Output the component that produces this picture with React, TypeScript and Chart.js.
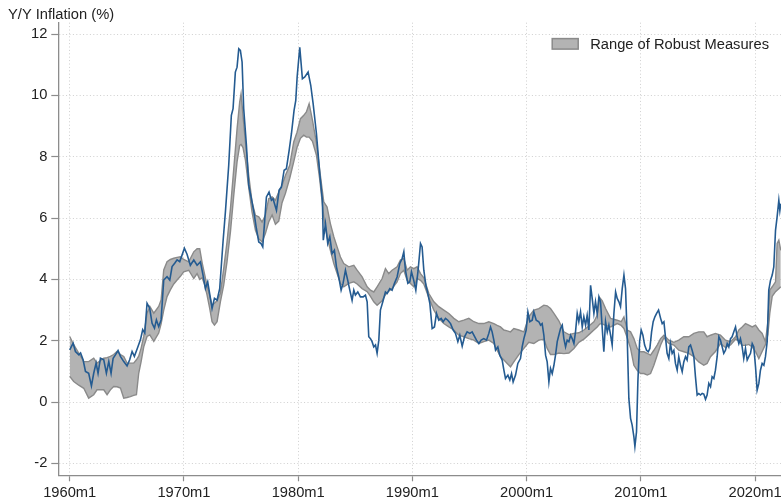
import React, { useEffect, useRef } from 'react';
import { Chart, registerables } from 'chart.js';

Chart.register(...registerables);

// ---------- data ----------
const titleText = 'Y/Y Inflation (%)';
const legendLabel = 'Range of Robust Measures';
const xTickYears = [1960, 1970, 1980, 1990, 2000, 2010, 2020];
const yTickValues = [-2, 0, 2, 4, 6, 8, 10, 12];

const lineYears = [
  1960.00, 1960.30, 1960.50, 1960.80, 1960.95, 1961.17, 1961.38, 1961.66, 1961.90, 1962.10,
  1962.31, 1962.48, 1962.69, 1962.98, 1963.21, 1963.42, 1963.62, 1963.80, 1964.00, 1964.23,
  1964.44, 1964.73, 1965.02, 1965.25, 1965.46, 1965.66, 1965.90, 1966.19, 1966.39, 1966.57,
  1966.77, 1967.00, 1967.21, 1967.42, 1967.59, 1967.79, 1968.00, 1968.23, 1968.52, 1968.76,
  1968.96, 1969.19, 1969.40, 1969.63, 1969.84, 1970.04, 1970.27, 1970.56, 1970.86, 1971.15,
  1971.44, 1971.67, 1971.88, 1972.08, 1972.32, 1972.46, 1972.67, 1972.90, 1973.13, 1973.42,
  1973.63, 1973.92, 1974.15, 1974.30, 1974.50, 1974.65, 1974.80, 1974.94, 1975.09, 1975.23,
  1975.47, 1975.67, 1975.96, 1976.17, 1976.34, 1976.55, 1976.75, 1976.90, 1977.22, 1977.45,
  1977.66, 1977.80, 1978.10, 1978.33, 1978.53, 1978.77, 1978.97, 1979.21, 1979.41, 1979.64,
  1979.79, 1979.91, 1980.14, 1980.37, 1980.58, 1980.87, 1981.10, 1981.31, 1981.60, 1981.89,
  1982.12, 1982.20, 1982.39, 1982.59, 1982.77, 1982.97, 1983.17, 1983.35, 1983.55, 1983.76,
  1983.93, 1984.14, 1984.34, 1984.52, 1984.72, 1984.87, 1985.01, 1985.22, 1985.45, 1985.69,
  1985.89, 1986.04, 1986.18, 1986.33, 1986.47, 1986.62, 1986.77, 1986.91, 1987.06, 1987.20,
  1987.41, 1987.64, 1987.79, 1988.02, 1988.22, 1988.43, 1988.66, 1988.90, 1989.10, 1989.25,
  1989.39, 1989.60, 1989.77, 1989.92, 1990.12, 1990.30, 1990.50, 1990.71, 1990.85, 1991.00,
  1991.20, 1991.29, 1991.53, 1991.73, 1991.93, 1992.11, 1992.31, 1992.52, 1992.69, 1992.90,
  1993.10, 1993.34, 1993.57, 1993.77, 1993.98, 1994.15, 1994.36, 1994.56, 1994.79, 1995.03,
  1995.23, 1995.38, 1995.61, 1995.82, 1996.02, 1996.25, 1996.49, 1996.69, 1996.84, 1996.98,
  1997.13, 1997.28, 1997.48, 1997.65, 1997.86, 1998.01, 1998.15, 1998.36, 1998.53, 1998.68,
  1998.82, 1999.03, 1999.23, 1999.46, 1999.61, 1999.76, 1999.96, 2000.11, 2000.28, 2000.49,
  2000.63, 2000.84, 2001.07, 2001.22, 2001.36, 2001.51, 2001.66, 2001.80, 2001.95, 2002.09,
  2002.24, 2002.39, 2002.53, 2002.68, 2002.82, 2002.97, 2003.12, 2003.26, 2003.41, 2003.55,
  2003.70, 2003.85, 2003.99, 2004.14, 2004.28, 2004.43, 2004.57, 2004.72, 2004.87, 2005.01,
  2005.16, 2005.30, 2005.45, 2005.60, 2005.74, 2005.89, 2006.03, 2006.18, 2006.33, 2006.47,
  2006.62, 2006.76, 2006.91, 2007.06, 2007.20, 2007.35, 2007.49, 2007.64, 2007.79, 2007.93,
  2008.08, 2008.22, 2008.37, 2008.52, 2008.66, 2008.81, 2008.95, 2009.10, 2009.24, 2009.39,
  2009.48, 2009.62, 2009.74, 2009.89, 2010.03, 2010.18, 2010.33, 2010.50, 2010.65, 2010.79,
  2010.94, 2011.08, 2011.23, 2011.38, 2011.55, 2011.73, 2011.87, 2012.02, 2012.16, 2012.30,
  2012.45, 2012.59, 2012.74, 2012.89, 2013.03, 2013.18, 2013.32, 2013.47, 2013.62, 2013.76,
  2013.91, 2014.05, 2014.20, 2014.35, 2014.49, 2014.64, 2014.78, 2014.93, 2015.07, 2015.22,
  2015.37, 2015.51, 2015.66, 2015.80, 2015.95, 2016.10, 2016.24, 2016.39, 2016.53, 2016.68,
  2016.83, 2016.97, 2017.12, 2017.26, 2017.41, 2017.56, 2017.70, 2017.85, 2017.99, 2018.14,
  2018.29, 2018.43, 2018.58, 2018.72, 2018.87, 2019.01, 2019.16, 2019.31, 2019.45, 2019.60,
  2019.75, 2019.89, 2020.04, 2020.18, 2020.33, 2020.47, 2020.62, 2020.77, 2020.91, 2021.06,
  2021.20, 2021.35, 2021.50, 2021.64, 2021.79, 2021.93, 2022.08, 2022.17, 2022.25,
];

const lineValues = [
  1.70, 1.92, 1.65, 1.54, 1.60, 1.38, 1.00, 0.94, 0.53, 0.94,
  1.27, 0.94, 1.43, 1.38, 0.94, 1.32, 0.94, 1.43, 1.54, 1.68,
  1.49, 1.32, 1.18, 1.38, 1.65, 1.49, 1.73, 2.03, 2.36, 2.25,
  3.22, 3.06, 2.57, 2.41, 2.68, 2.46, 2.68, 3.98, 4.09, 3.98,
  4.42, 4.53, 4.64, 4.58, 4.80, 5.02, 4.82, 4.46, 4.63, 4.46,
  4.57, 4.14, 3.70, 3.92, 3.38, 3.05, 3.38, 3.32, 3.70, 5.22,
  6.20, 7.72, 9.35, 9.57, 10.76, 10.92, 11.52, 11.47, 11.09, 9.57,
  8.37, 7.07, 6.53, 6.09, 5.66, 5.22, 5.17, 5.06, 6.69, 6.85,
  6.58, 6.63, 6.25, 6.91, 7.01, 7.56, 7.61, 8.21, 8.75, 9.51,
  9.84, 10.60, 11.57, 10.54, 10.60, 10.76, 10.33, 9.73, 8.75, 7.45,
  6.58, 5.28, 5.82, 5.17, 5.39, 4.84, 4.95, 4.41, 4.08, 3.65,
  3.87, 4.30, 3.97, 3.65, 3.32, 3.65, 3.49, 3.59, 3.43, 3.43,
  3.49, 3.27, 2.13, 2.07, 1.97, 1.80, 1.86, 1.59, 2.02, 3.00,
  3.27, 3.59, 3.54, 3.70, 3.65, 3.87, 4.08, 4.52, 4.68, 4.90,
  4.30, 3.87, 3.92, 4.25, 3.97, 3.65, 4.30, 5.17, 5.06, 4.30,
  3.76, 3.65, 3.21, 2.40, 2.45, 2.89, 2.67, 2.73, 2.62, 2.73,
  2.67, 2.56, 2.35, 2.24, 1.97, 2.18, 1.82, 2.13, 2.29, 2.24,
  2.29, 2.18, 2.02, 1.91, 2.02, 2.07, 2.02, 2.24, 2.45, 2.29,
  2.02, 1.69, 1.80, 1.53, 1.37, 1.04, 0.77, 0.88, 0.72, 0.93,
  0.66, 0.88, 1.26, 1.42, 1.80, 2.07, 2.35, 2.94, 2.62, 2.67,
  2.94, 2.67, 2.62, 2.51, 2.56, 2.18, 1.53, 1.31, 0.66, 1.10,
  0.93, 1.20, 1.53, 1.97, 2.18, 2.40, 2.51, 2.07, 1.80, 2.02,
  1.97, 2.18, 2.07, 1.91, 2.29, 2.89, 2.62, 2.94, 2.45, 2.78,
  2.51, 2.83, 2.35, 3.81, 3.38, 2.89, 3.27, 2.89, 3.43, 3.27,
  2.40, 1.64, 2.62, 2.29, 2.51, 2.18, 1.86, 2.89, 3.59, 3.38,
  3.27, 3.11, 3.70, 4.14, 3.70, 2.07, 0.12, -0.53, -0.75, -1.13,
  -1.45, -0.97, 0.66, 1.97, 2.35, 2.18, 1.86, 1.69, 1.64, 1.75,
  2.29, 2.62, 2.78, 2.89, 3.00, 2.73, 2.56, 2.62, 2.10, 1.59,
  1.42, 1.91, 1.59, 1.69, 1.26, 1.04, 1.48, 1.20, 0.99, 1.31,
  1.48, 1.37, 1.80, 1.86, 1.69, 1.48, 0.83, 0.23, 0.28, 0.23,
  0.28, 0.26, 0.09, 0.23, 0.61, 0.50, 0.83, 0.77, 1.04, 1.48,
  2.13, 2.02, 1.80, 1.59, 1.69, 1.91, 1.80, 2.07, 2.13, 2.29,
  2.45, 2.13, 1.91, 2.07, 1.80, 1.42, 1.75, 1.37, 1.48, 1.59,
  1.91, 1.80, 1.15, 0.39, 0.61, 1.04, 1.26, 1.20, 1.48, 1.97,
  3.65, 3.97, 4.14, 4.41, 5.60, 6.04, 6.58, 6.25, 6.47,
];

const bandYears = [
  1960.00, 1960.35, 1960.79, 1961.23, 1961.66, 1962.10, 1962.39, 1962.98, 1963.27, 1963.56,
  1963.85, 1964.14, 1964.44, 1964.73, 1965.02, 1965.31, 1965.60, 1965.84, 1966.04, 1966.25,
  1966.48, 1966.77, 1967.01, 1967.36, 1967.79, 1968.00, 1968.23, 1968.52, 1968.81, 1969.11,
  1969.40, 1969.69, 1969.98, 1970.42, 1970.86, 1971.15, 1971.38, 1971.59, 1971.79, 1972.02,
  1972.26, 1972.46, 1972.67, 1972.90, 1973.19, 1973.48, 1973.77, 1974.07, 1974.36, 1974.65,
  1974.88, 1975.00, 1975.17, 1975.38, 1975.67, 1975.96, 1976.26, 1976.55, 1976.84, 1977.13,
  1977.42, 1977.72, 1978.01, 1978.30, 1978.59, 1978.88, 1979.26, 1979.61, 1979.90, 1980.20,
  1980.49, 1980.72, 1980.96, 1981.25, 1981.60, 1981.89, 1982.24, 1982.53, 1982.82, 1983.12,
  1983.41, 1983.70, 1983.99, 1984.43, 1984.87, 1985.16, 1985.60, 1986.04, 1986.33, 1986.62,
  1986.91, 1987.35, 1987.64, 1987.93, 1988.22, 1988.66, 1988.95, 1989.25, 1989.54, 1989.83,
  1990.12, 1990.41, 1990.71, 1991.00, 1991.44, 1991.88, 1992.31, 1992.75, 1993.19, 1993.63,
  1994.06, 1994.50, 1994.94, 1995.38, 1995.82, 1996.25, 1996.69, 1997.13, 1997.42, 1997.71,
  1998.01, 1998.30, 1998.59, 1998.88, 1999.32, 1999.76, 2000.19, 2000.63, 2001.07, 2001.51,
  2001.80, 2002.09, 2002.39, 2002.82, 2003.26, 2003.70, 2004.14, 2004.57, 2005.01, 2005.45,
  2005.89, 2006.18, 2006.41, 2006.62, 2006.91, 2007.35, 2007.93, 2008.28, 2008.52, 2008.81,
  2009.10, 2009.39, 2009.68, 2009.97, 2010.27, 2010.56, 2010.85, 2011.14, 2011.43, 2011.73,
  2012.02, 2012.45, 2012.89, 2013.32, 2013.76, 2014.20, 2014.64, 2015.07, 2015.51, 2015.80,
  2016.10, 2016.53, 2016.97, 2017.41, 2017.85, 2018.29, 2018.58, 2018.87, 2019.16, 2019.45,
  2019.75, 2020.04, 2020.33, 2020.62, 2020.91, 2021.12, 2021.29, 2021.50, 2021.79, 2021.93,
  2022.08, 2022.25,
];

const bandHigh = [
  2.14, 1.87, 1.60, 1.32, 1.32, 1.43, 1.27, 1.43, 1.45, 1.49,
  1.55, 1.65, 1.55, 1.49, 1.27, 1.27, 1.27, 1.38, 1.50, 1.76,
  2.14, 2.90, 3.12, 2.90, 3.12, 3.33, 4.31, 4.58, 4.65, 4.69,
  4.72, 4.74, 4.65, 4.57, 4.90, 5.00, 5.00, 4.55, 4.20, 3.80,
  3.45, 3.16, 3.22, 3.30, 3.55, 4.35, 5.22, 6.31, 7.61, 8.91,
  9.78, 10.05, 9.35, 8.48, 7.39, 6.53, 6.09, 6.04, 5.87, 6.09,
  6.63, 6.69, 6.58, 6.85, 7.07, 7.39, 7.72, 8.48, 8.80, 9.24,
  9.35, 9.46, 9.73, 9.19, 8.45, 7.55, 6.53, 6.36, 5.82, 5.39,
  5.06, 4.73, 4.52, 4.41, 4.46, 4.30, 4.08, 3.76, 3.65, 3.59,
  3.76, 4.03, 4.35, 4.19, 4.30, 4.41, 4.63, 4.68, 4.30, 4.41,
  4.35, 4.41, 4.19, 4.05, 3.54, 3.27, 3.11, 3.00, 2.89, 2.73,
  2.62, 2.67, 2.73, 2.62, 2.56, 2.56, 2.62, 2.56, 2.50, 2.45,
  2.35, 2.32, 2.29, 2.40, 2.35, 2.29, 2.78, 3.00, 3.05, 3.16,
  3.14, 3.05, 2.89, 2.65, 2.29, 2.20, 2.24, 2.26, 2.35, 2.48,
  2.62, 2.83, 3.40, 3.30, 3.05, 2.73, 2.67, 2.62, 2.78, 2.35,
  2.29, 2.07, 1.75, 1.64, 1.64, 1.59, 1.53, 1.69, 1.86, 2.07,
  2.18, 2.02, 1.95, 2.02, 2.13, 2.13, 2.24, 2.29, 2.29, 2.13,
  2.18, 2.24, 2.18, 2.02, 1.97, 2.13, 2.35, 2.45, 2.56, 2.51,
  2.45, 2.51, 2.35, 2.24, 1.97, 2.60, 3.65, 3.76, 3.92, 5.17,
  5.28, 4.95,
];

const bandLow = [
  0.84, 0.67, 0.55, 0.45, 0.13, 0.24, 0.40, 0.40, 0.24, 0.40,
  0.51, 0.50, 0.46, 0.13, 0.15, 0.18, 0.22, 0.24, 0.94, 1.32,
  1.80, 2.14, 2.19, 1.98, 2.25, 2.55, 3.00, 3.44, 3.66, 3.85,
  3.98, 4.10, 4.25, 4.30, 4.03, 4.19, 4.00, 4.05, 3.85, 3.50,
  3.05, 2.62, 2.51, 2.62, 3.27, 3.81, 4.57, 5.55, 6.74, 7.83,
  8.37, 8.40, 8.30, 7.90, 7.00, 6.20, 5.60, 5.33, 5.22, 5.50,
  5.87, 6.10, 5.80, 5.90, 6.50, 6.80, 7.30, 7.83, 8.30, 8.60,
  8.70, 8.64, 8.64, 8.50, 8.05, 7.25, 6.04, 5.39, 4.95, 4.52,
  4.19, 3.87, 3.76, 3.87, 3.92, 3.85, 3.70, 3.60, 3.45, 3.27,
  3.16, 3.30, 3.50, 3.62, 3.70, 3.92, 4.19, 4.30, 3.97, 3.87,
  3.76, 4.03, 3.97, 3.85, 3.40, 3.00, 2.73, 2.56, 2.45, 2.35,
  2.18, 2.13, 2.07, 2.02, 1.91, 1.97, 2.02, 1.91, 1.69, 1.48,
  1.37, 1.26, 1.15, 1.31, 1.55, 1.75, 1.95, 1.91, 2.02, 2.05,
  1.75, 1.55, 1.55, 1.60, 1.58, 1.60, 1.75, 1.95, 2.05, 2.20,
  2.35, 2.45, 2.55, 2.55, 2.50, 2.45, 2.56, 2.50, 2.40, 2.10,
  1.75, 1.20, 1.04, 0.93, 0.93, 0.88, 0.93, 1.20, 1.53, 1.86,
  2.10, 1.91, 1.86, 1.69, 1.64, 1.59, 1.48, 1.31, 1.20, 1.26,
  1.48, 1.65, 1.91, 1.78, 1.86, 2.05, 2.00, 1.85, 1.85, 1.88,
  1.80, 1.65, 1.42, 1.65, 1.88, 2.20, 2.90, 3.45, 3.60, 3.65,
  3.70, 3.76,
];

// ---------- styles ----------
const FONT = '"Liberation Sans", Arial, Helvetica, sans-serif';
const FONT_SIZE = 14.7;
const TEXT_COLOR = '#222222';
const LINE_COLOR = '#245b91';
const BAND_FILL = '#b3b3b3';
const BAND_EDGE = '#8a8a8a';
const AXIS_COLOR = '#8c8c8c';
const GRID_COLOR = '#cfcfcf';

export default function App() {
  const ref = useRef<HTMLCanvasElement | null>(null);

  useEffect(() => {
    const canvas = ref.current;
    if (!canvas) return;

    const overlay = {
      id: 'overlay',
      afterDraw(chart: any) {
        const { ctx, chartArea } = chart;
        ctx.save();
        ctx.font = `${FONT_SIZE}px ${FONT}`;
        ctx.fillStyle = TEXT_COLOR;
        ctx.textAlign = 'left';
        ctx.textBaseline = 'alphabetic';
        ctx.fillText(titleText, 8, 18.7);
        const tw = ctx.measureText(legendLabel).width;
        const textLeft = chartArea.right - 12 - tw;
        ctx.fillText(legendLabel, textLeft, 49.3);
        const boxW = 26;
        const boxH = 10.5;
        const boxX = textLeft - 12 - boxW;
        ctx.fillStyle = BAND_FILL;
        ctx.fillRect(boxX, 38.6, boxW, boxH);
        ctx.strokeStyle = BAND_EDGE;
        ctx.lineWidth = 1.5;
        ctx.strokeRect(boxX, 38.6, boxW, boxH);
        ctx.restore();
      },
    };

    const chart = new Chart(canvas, {
      type: 'line',
      data: {
        datasets: [
          {
            label: 'Inflation',
            data: lineYears.map((x, i) => ({ x, y: lineValues[i] })),
            borderColor: LINE_COLOR,
            borderWidth: 1.6,
            pointRadius: 0,
            fill: false,
            tension: 0,
            order: 0,
          },
          {
            label: legendLabel,
            data: bandYears.map((x, i) => ({ x, y: bandHigh[i] })),
            borderColor: BAND_EDGE,
            borderWidth: 1.4,
            backgroundColor: BAND_FILL,
            pointRadius: 0,
            fill: '+1',
            tension: 0,
            order: 1,
          },
          {
            label: 'Band low',
            data: bandYears.map((x, i) => ({ x, y: bandLow[i] })),
            borderColor: BAND_EDGE,
            borderWidth: 1.4,
            pointRadius: 0,
            fill: false,
            tension: 0,
            order: 2,
          },
        ],
      },
      options: {
        animation: false,
        responsive: false,
        devicePixelRatio: 1,
        layout: { padding: { top: 22.7, right: 0, bottom: 0, left: 0 } },
        plugins: {
          legend: { display: false },
          tooltip: { enabled: false },
          filler: { drawTime: 'beforeDatasetsDraw' },
        },
        scales: {
          x: {
            type: 'linear',
            min: 1959.0,
            max: 2022.27,
            afterBuildTicks: (s: any) => {
              s.ticks = xTickYears.map((v) => ({ value: v }));
            },
            afterFit: (s: any) => {
              s.height = 25.7;
              s.paddingLeft = 0;
              s.paddingRight = 0;
            },
            ticks: {
              autoSkip: false,
              maxRotation: 0,
              padding: 3,
              color: TEXT_COLOR,
              font: { family: FONT, size: FONT_SIZE },
              callback: (v: any) => `${v}m1`,
            },
            grid: {
              color: GRID_COLOR,
              lineWidth: 1,
              drawTicks: true,
              tickLength: 6,
              tickColor: AXIS_COLOR,
              tickWidth: 1.2,
            },
            border: { display: true, color: AXIS_COLOR, width: 1.3, dash: [1, 2.4] },
          },
          y: {
            type: 'linear',
            min: -2.387,
            max: 12.37,
            afterBuildTicks: (s: any) => {
              s.ticks = yTickValues.map((v) => ({ value: v }));
            },
            afterFit: (s: any) => {
              s.width = 58.3;
              s.paddingTop = 0;
              s.paddingBottom = 0;
            },
            ticks: {
              padding: 4,
              color: TEXT_COLOR,
              font: { family: FONT, size: FONT_SIZE },
              callback: (v: any) => `${v}`,
            },
            grid: {
              color: GRID_COLOR,
              lineWidth: 1,
              drawTicks: true,
              tickLength: 7,
              tickColor: AXIS_COLOR,
              tickWidth: 1.2,
            },
            border: { display: true, color: AXIS_COLOR, width: 1.3, dash: [1, 2.4] },
          },
        },
      },
      plugins: [overlay],
    } as any);

    return () => chart.destroy();
  }, []);

  return (
    <div style={{ position: 'fixed', left: 0, top: 0, width: 781, height: 501, background: '#ffffff' }}>
      <canvas ref={ref} width={781} height={501} style={{ display: 'block' }} />
    </div>
  );
}
